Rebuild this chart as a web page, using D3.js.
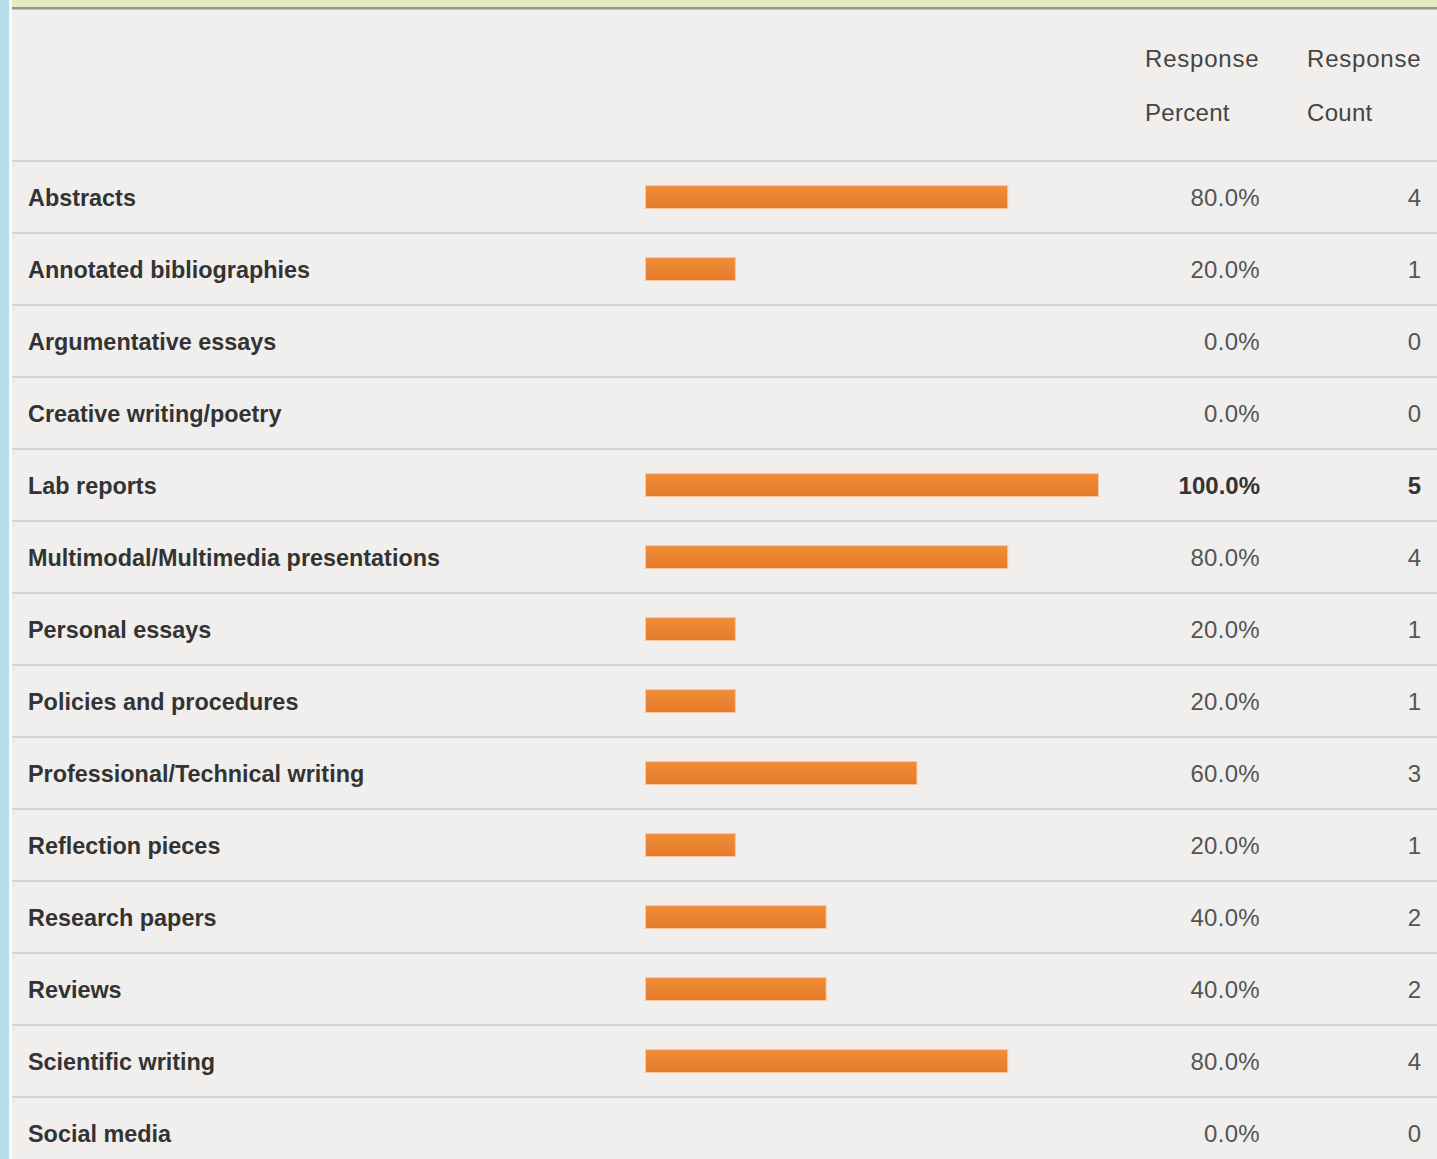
<!DOCTYPE html>
<html>
<head>
<meta charset="UTF-8">
<title>Response table</title>
<script src="https://d3js.org/d3.v7.min.js"></script>
<style>
  body { margin: 0; background: #f0efed; overflow: hidden; }
</style>
</head>
<body>
<script>
const categories = [
  "Abstracts", "Annotated bibliographies", "Argumentative essays", "Creative writing/poetry",
  "Lab reports", "Multimodal/Multimedia presentations", "Personal essays", "Policies and procedures",
  "Professional/Technical writing", "Reflection pieces", "Research papers", "Reviews",
  "Scientific writing", "Social media"
];
const percents = [80, 20, 0, 0, 100, 80, 20, 20, 60, 20, 40, 40, 80, 0];
const counts = [4, 1, 0, 0, 5, 4, 1, 1, 3, 1, 2, 2, 4, 0];
const headers = [["Response", "Percent"], ["Response", "Count"]];

const width = 1437, height = 1159;
const rows = categories.map((c, i) => ({ name: c, pct: percents[i], count: counts[i] }));
const maxPct = d3.max(percents);

const svg = d3.select("body").append("svg")
  .attr("width", width).attr("height", height);

const defs = svg.append("defs");
const grad = defs.append("linearGradient").attr("id", "barGrad")
  .attr("x1", 0).attr("y1", 0).attr("x2", 0).attr("y2", 1);
grad.append("stop").attr("offset", "0%").attr("stop-color", "#f38d39");
grad.append("stop").attr("offset", "100%").attr("stop-color", "#e47b2a");

// page chrome
svg.append("rect").attr("width", width).attr("height", height).attr("fill", "#f0efed");
svg.append("rect").attr("x", 0).attr("y", 0).attr("width", width).attr("height", 8).attr("fill", "#e4ebbe");
svg.append("rect").attr("x", 12).attr("y", 7).attr("width", width).attr("height", 2).attr("fill", "#949494");
svg.append("rect").attr("x", 12).attr("y", 9).attr("width", width).attr("height", 1).attr("fill", "#c4c4c4");
svg.append("rect").attr("x", 0).attr("y", 0).attr("width", 9).attr("height", height).attr("fill", "#b6dce8");
svg.append("rect").attr("x", 9).attr("y", 0).attr("width", 3).attr("height", height).attr("fill", "#fbfbfb");

const y = d3.scaleBand().domain(categories).range([161, 161 + 72 * categories.length]);
const x = d3.scaleLinear().domain([0, maxPct]).range([645, 1099]);
const pctRight = 1260, countRight = 1421;

// header
const hdr = svg.append("g")
  .attr("font-family", "Liberation Sans, Arial, sans-serif")
  .attr("font-size", 24).attr("fill", "#444").attr("letter-spacing", 0.8);
headers.forEach((h, i) => {
  const hx = i === 0 ? 1145 : 1307;
  hdr.append("text").attr("x", hx).attr("y", 67).text(h[0]);
  hdr.append("text").attr("x", hx).attr("y", 121).attr("letter-spacing", 0.3).text(h[1]);
});

// separators
svg.append("g").selectAll("rect")
  .data(categories).join("rect")
  .attr("x", 12).attr("y", d => y(d) - 1)
  .attr("width", width - 12).attr("height", 2)
  .attr("fill", "#d5d4d2");

const row = svg.append("g").selectAll("g")
  .data(rows).join("g")
  .attr("transform", d => `translate(0,${y(d.name) + y.bandwidth() / 2})`);

row.append("text")
  .attr("x", 28).attr("y", 8.5)
  .attr("font-family", "Liberation Sans, Arial, sans-serif")
  .attr("font-size", 23.4).attr("font-weight", "bold").attr("fill", "#333")
  .text(d => d.name);

row.filter(d => d.pct > 0).append("rect")
  .attr("x", x(0) + 0.5).attr("y", -11.5)
  .attr("width", d => x(d.pct) - x(0) - 1).attr("height", 23)
  .attr("fill", "url(#barGrad)")
  .attr("stroke", "#f6c6a0").attr("stroke-width", 1);

const isMax = d => d.pct === maxPct;

row.append("text")
  .attr("x", pctRight).attr("y", 8.5).attr("text-anchor", "end")
  .attr("font-family", "Liberation Sans, Arial, sans-serif")
  .attr("font-size", 24).attr("letter-spacing", d => isMax(d) ? 0 : 0.3)
  .attr("font-weight", d => isMax(d) ? "bold" : "normal")
  .attr("fill", d => isMax(d) ? "#333" : "#555")
  .text(d => d3.format(".1f")(d.pct) + "%");

row.append("text")
  .attr("x", countRight).attr("y", 8.5).attr("text-anchor", "end")
  .attr("font-family", "Liberation Sans, Arial, sans-serif")
  .attr("font-size", 24)
  .attr("font-weight", d => isMax(d) ? "bold" : "normal")
  .attr("fill", d => isMax(d) ? "#333" : "#555")
  .text(d => d.count);
</script>
</body>
</html>
